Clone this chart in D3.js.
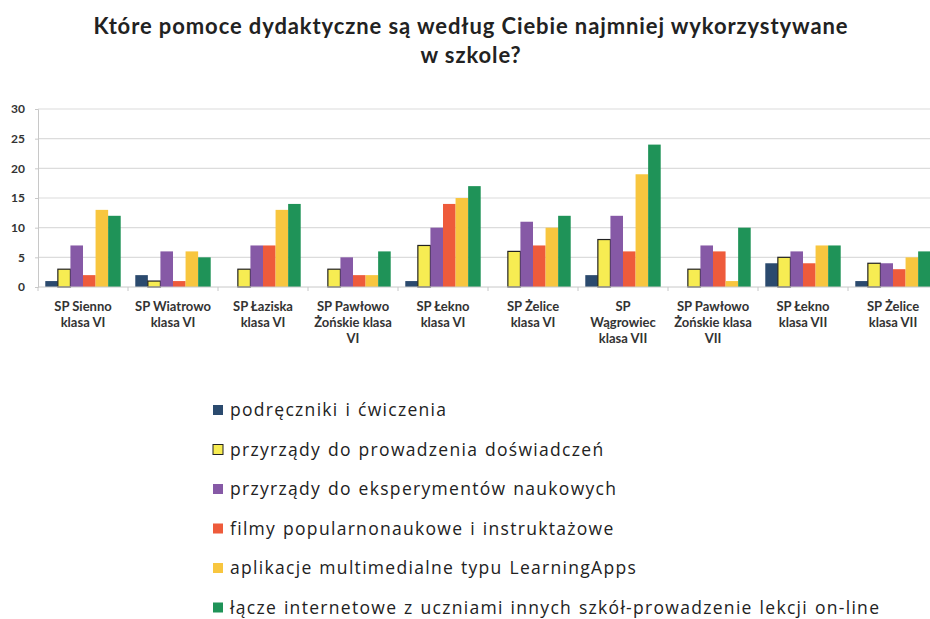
<!DOCTYPE html>
<html>
<head>
<meta charset="utf-8">
<script src="https://cdn.jsdelivr.net/npm/d3@7"></script>
<style>
  body { margin: 0; background: #fff; }
  text { font-family: Lato, "Open Sans", sans-serif; }
</style>
</head>
<body>
<div id="container"></div>
<script>
// Dimensions
const width = 930;
const height = 619;
const marginTop = 109;
const marginLeft = 38;
const plotRight = 938; // chart runs past the right edge in the source
const axisY = 287;

const categories = [
  ["SP Sienno", "klasa VI"],
  ["SP Wiatrowo", "klasa VI"],
  ["SP Łaziska", "klasa VI"],
  ["SP Pawłowo", "Żońskie klasa", "VI"],
  ["SP Łekno", "klasa VI"],
  ["SP Żelice", "klasa VI"],
  ["SP", "Wągrowiec", "klasa VII"],
  ["SP Pawłowo", "Żońskie klasa", "VII"],
  ["SP Łekno", "klasa VII"],
  ["SP Żelice", "klasa VII"],
];

const seriesNames = [
  "podręczniki i ćwiczenia",
  "przyrządy do prowadzenia doświadczeń",
  "przyrządy do eksperymentów naukowych",
  "filmy popularnonaukowe i instruktażowe",
  "aplikacje multimedialne typu LearningApps",
  "łącze internetowe z uczniami innych szkół-prowadzenie lekcji on-line",
];

const podreczniki = [1, 2, 0, 0, 1, 0, 2, 0, 4, 1];
const przyrzadyDoswiadczen = [3, 1, 3, 3, 7, 6, 8, 3, 5, 4];
const przyrzadyEksperymentow = [7, 6, 7, 5, 10, 11, 12, 7, 6, 4];
const filmy = [2, 1, 7, 2, 14, 7, 6, 6, 4, 3];
const aplikacje = [13, 6, 13, 2, 15, 10, 19, 1, 7, 5];
const lacze = [12, 5, 14, 6, 17, 12, 24, 10, 7, 6];

const yTicks = [0, 5, 10, 15, 20, 25, 30];

const seriesValues = [podreczniki, przyrzadyDoswiadczen, przyrzadyEksperymentow, filmy, aplikacje, lacze];
const colors = ["#2b4a6e", "#f7ec52", "#8659a6", "#ee5b3b", "#f8c63f", "#1f9358"];

const svg = d3.create("svg").attr("width", width).attr("height", height);

// Scales
const x = d3.scaleBand()
  .domain(d3.range(categories.length))
  .range([marginLeft, plotRight]);

const xInner = d3.scaleBand()
  .domain(d3.range(seriesNames.length))
  .range([0, x.bandwidth()])
  .paddingOuter(0.58);

const y = d3.scaleLinear()
  .domain([0, 30])
  .range([axisY, marginTop]);

// Gridlines
svg.append("g")
  .selectAll("line")
  .data(yTicks.filter(d => d > 0))
  .join("line")
  .attr("x1", marginLeft)
  .attr("x2", width)
  .attr("y1", d => y(d))
  .attr("y2", d => y(d))
  .attr("stroke", "#dcdcdc")
  .attr("stroke-width", 1.2);

// Y axis
const yAxis = svg.append("g")
  .attr("transform", `translate(${marginLeft},0)`)
  .call(d3.axisLeft(y).tickValues(yTicks).tickSize(3).tickPadding(10));
yAxis.select(".domain").attr("stroke", "#c8c8c8");
yAxis.selectAll(".tick line").attr("stroke", "#c8c8c8");
yAxis.selectAll("text")
  .attr("font-size", 12)
  .attr("font-weight", "bold")
  .attr("fill", "#333")
  .style("font-family", "Lato, sans-serif");

// Bars
const groups = svg.append("g")
  .selectAll("g")
  .data(categories.map((c, i) => i))
  .join("g")
  .attr("transform", i => `translate(${x(i)},0)`);

groups.selectAll("rect")
  .data(i => seriesValues.map((vals, s) => ({ s, v: vals[i] })).filter(d => d.v > 0))
  .join("rect")
  .attr("x", d => xInner(d.s))
  .attr("y", d => y(d.v))
  .attr("width", xInner.bandwidth())
  .attr("height", d => axisY - y(d.v))
  .attr("fill", d => colors[d.s])
  .attr("stroke", d => d.s === 1 ? "#222" : "none")
  .attr("stroke-width", d => d.s === 1 ? 1.2 : 0);

// X axis baseline and ticks
const xAxis = svg.append("g")
  .attr("transform", `translate(0,${axisY})`);
xAxis.append("line")
  .attr("x1", marginLeft).attr("x2", width)
  .attr("stroke", "#c8c8c8");
xAxis.selectAll(".sep")
  .data(d3.range(categories.length + 1))
  .join("line")
  .attr("class", "sep")
  .attr("x1", i => marginLeft + i * x.step())
  .attr("x2", i => marginLeft + i * x.step())
  .attr("y2", 4)
  .attr("stroke", "#c8c8c8");

// Category labels
const labels = svg.append("g")
  .selectAll("text")
  .data(categories)
  .join("text")
  .attr("text-anchor", "middle")
  .attr("font-size", 13)
  .attr("font-weight", "bold")
  .attr("fill", "#333")
  .attr("transform", (d, i) => `translate(${x(i) + x.bandwidth() / 2},${axisY + 24})`);
labels.selectAll("tspan")
  .data(d => d)
  .join("tspan")
  .attr("x", 0)
  .attr("dy", (d, j) => j === 0 ? 0 : 16)
  .text(d => d);

// Title
const title = svg.append("text")
  .attr("x", 471)
  .attr("y", 34)
  .attr("text-anchor", "middle")
  .attr("font-size", 22)
  .attr("font-weight", "bold")
  .attr("letter-spacing", 0.9)
  .attr("fill", "#222");
title.append("tspan").attr("x", 471).text("Które pomoce dydaktyczne są według Ciebie najmniej wykorzystywane");
title.append("tspan").attr("x", 471).attr("dy", 29).text("w szkole?");

// Legend
const legend = svg.append("g")
  .selectAll("g")
  .data(seriesNames)
  .join("g")
  .attr("transform", (d, i) => `translate(213,${411 + i * 39.5})`);

legend.append("rect")
  .attr("x", 0)
  .attr("y", -6)
  .attr("width", 10)
  .attr("height", 10)
  .attr("fill", (d, i) => colors[i])
  .attr("stroke", (d, i) => i === 1 ? "#222" : "none");

legend.append("text")
  .attr("x", 17)
  .attr("y", 5)
  .attr("font-size", 17.5)
  .attr("letter-spacing", 1.3)
  .attr("word-spacing", 1)
  .attr("fill", "#222")
  .style("font-family", "'Open Sans', sans-serif")
  .text(d => d);

document.getElementById("container").append(svg.node());
</script>
</body>
</html>
